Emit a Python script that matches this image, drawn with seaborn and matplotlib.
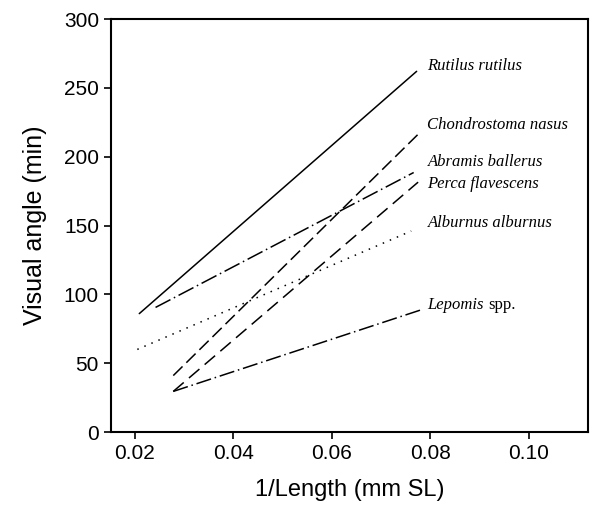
import pandas as pd
import seaborn as sns
import matplotlib.pyplot as plt

# species lines: two end points each (1/length, visual angle)
species = ["Rutilus rutilus", "Chondrostoma nasus", "Abramis ballerus",
           "Perca flavescens", "Alburnus alburnus", "Lepomis"]
x_start = [0.0209, 0.0278, 0.0242, 0.0278, 0.0205, 0.0278]
x_end = [0.0772, 0.0777, 0.0766, 0.0775, 0.0761, 0.0779]
y_start = [86, 41, 90.5, 29.5, 60, 29.5]
y_end = [262, 217, 188.5, 181.5, 146, 88.5]
label_y = [266, 223, 196, 180.5, 152, 92.5]

rows = []
for i, s in enumerate(species):
    rows.append({"species": s, "x": x_start[i], "y": y_start[i]})
    rows.append({"species": s, "x": x_end[i], "y": y_end[i]})
df = pd.DataFrame(rows)

sns.set_style("ticks")
plt.rcParams["font.family"] = ["Liberation Sans", "DejaVu Sans"]
plt.rcParams["text.color"] = "black"
plt.rcParams["axes.labelcolor"] = "black"
plt.rcParams["xtick.color"] = "black"
plt.rcParams["ytick.color"] = "black"

fig = plt.figure(figsize=(5.93, 5.18), dpi=100)
ax = fig.add_axes([0.1867, 0.166, 0.805, 0.7973])

dash_map = {
    "Rutilus rutilus": "",
    "Chondrostoma nasus": (8.5, 3.5),
    "Abramis ballerus": (11, 2.5, 1, 2.5),
    "Perca flavescens": (9, 4.5),
    "Alburnus alburnus": (1, 4),
    "Lepomis": (10, 2.5, 1, 2.5),
}
sns.lineplot(data=df, x="x", y="y", hue="species", style="species",
             palette=["black"] * 6, dashes=dash_map, linewidth=1.1,
             legend=False, ax=ax, sort=False)

for i, s in enumerate(species):
    t = ax.text(0.0794, label_y[i], s, style="italic", fontsize=12,
                family="Liberation Serif", va="center", ha="left")
    if s == "Lepomis":
        ax.annotate("spp.", xy=(1, 0.5), xycoords=t, xytext=(3, 0),
                    textcoords="offset points", fontsize=12,
                    family="Liberation Serif", va="center", ha="left")

ax.set_xlim(0.0151, 0.112)
ax.set_ylim(0, 300)
ax.set_xticks([0.02, 0.04, 0.06, 0.08, 0.10])
ax.set_xticklabels(["0.02", "0.04", "0.06", "0.08", "0.10"])
ax.set_yticks([0, 50, 100, 150, 200, 250, 300])
ax.tick_params(labelsize=15, length=5, width=1.2, color="black")
for sp in ax.spines.values():
    sp.set_visible(True)
    sp.set_linewidth(1.5)
    sp.set_color("black")

ax.set_xlabel("1/Length (mm SL)", fontsize=17, labelpad=12)
ax.set_ylabel("Visual angle (min)", fontsize=18, labelpad=12)

fig.savefig("out.png", dpi=100)
